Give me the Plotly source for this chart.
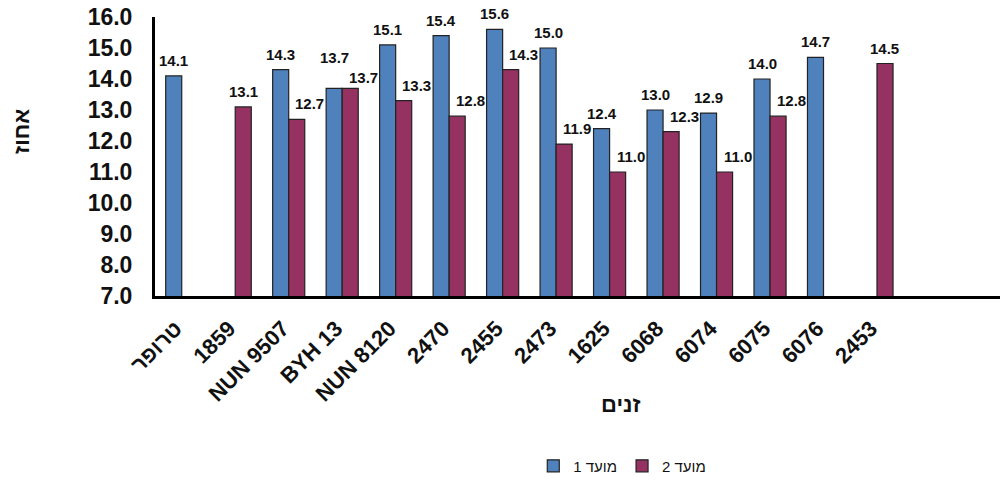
import plotly.graph_objects as go

categories = ["טרופר", "1859", "NUN 9507", "BYH 13", "NUN 8120", "2470", "2455",
              "2473", "1625", "6068", "6074", "6075", "6076", "2453"]
series1_name = "מועד 1"
series2_name = "מועד 2"
series1 = [14.1, None, 14.3, 13.7, 15.1, 15.4, 15.6, 15.0, 12.4, 13.0, 12.9, 14.0, 14.7, None]
series2 = [None, 13.1, 12.7, 13.7, 13.3, 12.8, 14.3, 11.9, 11.0, 12.3, 11.0, 12.8, None, 14.5]
y_ticks = [7.0, 8.0, 9.0, 10.0, 11.0, 12.0, 13.0, 14.0, 15.0, 16.0]
x_title = "זנים"
y_title = "אחוז"

FONT = "Liberation Sans, Arial, sans-serif"
BLUE = "#4F81BD"
RED = "#963262"
TXT = "#111111"

fig = go.Figure()
fig.add_trace(go.Bar(x=categories, y=series1, name=series1_name,
                     marker=dict(color=BLUE, line=dict(color="#222222", width=1.2))))
fig.add_trace(go.Bar(x=categories, y=series2, name=series2_name,
                     marker=dict(color=RED, line=dict(color="#222222", width=1.2))))

label_font = dict(family=FONT, size=15, color=TXT, weight="bold")
annotations = []
for i, (v1, v2) in enumerate(zip(series1, series2)):
    tie = v1 is not None and v2 is not None and abs(v1 - v2) < 0.3
    if v1 is not None:
        annotations.append(dict(x=i, y=v1, xref="x", yref="y", text=f"{v1:.1f}",
                                showarrow=False, xshift=-8, yshift=5 + (15 if tie else 0),
                                yanchor="bottom", font=label_font))
    if v2 is not None:
        shift = 21 if v1 is not None else 8
        annotations.append(dict(x=i, y=v2, xref="x", yref="y", text=f"{v2:.1f}",
                                showarrow=False, xshift=shift, yshift=5 - (5 if tie else 0),
                                yanchor="bottom", font=label_font))

# axis titles
annotations.append(dict(x=0.552, y=-0.39, xref="paper", yref="paper", text=x_title,
                        showarrow=False, xanchor="center", yanchor="middle",
                        font=dict(family=FONT, size=22, color=TXT, weight="bold")))
annotations.append(dict(x=-0.158, y=0.59, xref="paper", yref="paper", text=y_title,
                        showarrow=False, xanchor="center", yanchor="middle", textangle=-90,
                        font=dict(family=FONT, size=22, color=TXT, weight="bold")))

fig.update_layout(
    width=1002, height=480,
    margin=dict(l=155, r=2, t=17, b=184),
    paper_bgcolor="white", plot_bgcolor="white",
    barmode="group", bargap=0.4, bargroupgap=0,
    font=dict(family=FONT, color=TXT),
    annotations=annotations,
    showlegend=True,
    legend=dict(orientation="h", x=0.553, xanchor="center", xref="paper",
                y=0.029, yanchor="middle", yref="container",
                font=dict(family=FONT, size=15, color=TXT), traceorder="normal"),
    xaxis=dict(type="category", range=[-0.5, 15.3], showgrid=False,
               showline=True, linecolor="black", linewidth=3,
               ticks="", tickangle=-45, automargin=False,
               ticklabelstandoff=8, ticklabelshift=-6,
               tickfont=dict(family=FONT, size=22, color=TXT, weight="bold")),
    yaxis=dict(range=[7, 16], tickvals=y_ticks, tickformat=".1f", showgrid=False,
               zeroline=False, showline=True, linecolor="black", linewidth=3,
               ticks="", automargin=False, ticklabelstandoff=15,
               tickfont=dict(family=FONT, size=23, color=TXT, weight="bold")),
)

fig.write_html("out.html", config={"displayModeBar": False},
               post_script="document.body.style.margin='0';document.body.style.padding='0';")
